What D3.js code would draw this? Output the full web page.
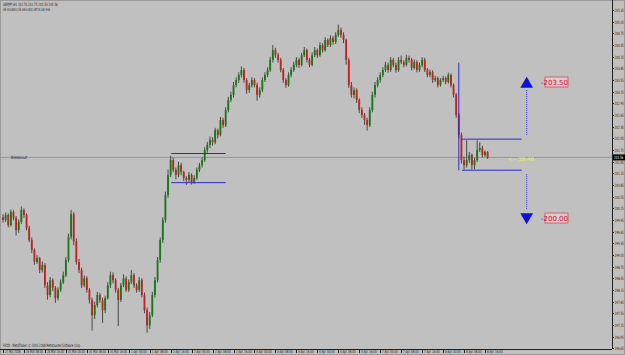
<!DOCTYPE html>
<html><head><meta charset="utf-8">
<script src="https://cdn.jsdelivr.net/npm/d3@7"></script>
<style>
body{margin:0;background:#c0c0c0;}
svg{display:block;font-family:"DejaVu Sans",sans-serif;}
</style>
</head><body><div id="chart"></div>
<script>
// GBPJPY H1 candles: [open, high, low, close]
var candles = [
  [200.02,200.10,199.88,199.95],[199.95,200.14,199.90,200.08],[200.08,200.12,199.76,199.82],[199.82,200.22,199.78,200.16],
  [200.16,200.20,199.94,200.00],[200.00,200.05,199.55,199.69],[199.69,199.96,199.62,199.90],[199.90,200.30,199.85,200.21],
  [200.21,200.25,200.00,200.08],[200.08,200.12,199.68,199.74],[199.74,199.80,199.38,199.43],[199.43,199.50,199.10,199.18],
  [199.18,199.22,198.80,198.87],[198.87,199.05,198.82,198.97],[198.97,199.00,198.58,198.66],[198.66,198.88,198.60,198.79],
  [198.79,198.84,198.20,198.27],[198.27,198.35,197.90,198.02],[198.02,198.48,197.96,198.40],[198.40,198.45,198.12,198.20],
  [198.20,198.25,197.82,197.94],[197.94,198.22,197.88,198.15],[198.15,198.42,198.10,198.35],[198.35,198.62,198.30,198.53],
  [198.53,199.00,198.48,198.92],[198.92,199.60,198.86,199.52],[199.52,200.21,199.45,200.10],[200.10,200.15,199.30,199.40],
  [199.40,199.48,198.80,198.87],[198.87,198.95,198.58,198.66],[198.66,198.72,198.20,198.27],[198.27,198.52,198.22,198.45],
  [198.45,198.50,198.08,198.15],[198.15,198.20,197.80,197.89],[197.89,197.95,197.10,197.50],[197.50,197.85,197.40,197.76],
  [197.76,198.10,197.70,198.02],[198.02,198.08,197.82,197.89],[197.89,197.95,197.30,197.63],[197.63,198.00,197.55,197.94],
  [197.94,198.35,197.90,198.27],[198.27,198.62,198.20,198.53],[198.53,198.60,198.32,198.40],[198.40,198.45,198.08,198.15],
  [198.15,198.20,197.22,197.89],[197.89,198.33,197.84,198.27],[198.27,198.55,198.22,198.45],[198.45,198.50,198.10,198.15],
  [198.15,198.42,198.10,198.35],[198.35,198.66,198.30,198.53],[198.53,198.58,198.20,198.27],[198.27,198.32,198.08,198.15],
  [198.15,198.48,198.10,198.40],[198.40,198.45,197.96,198.02],[198.02,198.08,197.55,197.63],[197.63,197.70,197.05,197.24],
  [197.24,197.58,197.15,197.50],[197.50,198.10,197.45,198.02],[198.02,198.48,197.95,198.40],[198.40,199.00,198.34,198.92],
  [198.92,199.50,198.85,199.43],[199.43,200.02,199.36,199.95],[199.95,200.68,199.88,200.59],[200.59,201.25,200.52,201.11],
  [201.11,201.60,201.05,201.49],[201.49,201.55,201.18,201.24],[201.24,201.30,201.00,201.11],[201.11,201.45,201.05,201.36],
  [201.36,201.42,201.10,201.18],[201.18,201.22,200.95,201.03],[201.03,201.08,200.85,200.98],[200.98,201.18,200.92,201.11],
  [201.11,201.15,200.86,200.93],[200.93,201.10,200.88,201.03],[201.03,201.30,200.98,201.24],[201.24,201.42,201.18,201.36],
  [201.36,201.56,201.30,201.49],[201.49,201.82,201.44,201.75],[201.75,201.96,201.68,201.88],[201.88,202.10,201.80,202.01],
  [202.01,202.08,201.86,201.95],[201.95,202.32,201.90,202.26],[202.26,202.30,202.05,202.14],[202.14,202.60,202.10,202.52],
  [202.52,202.58,202.32,202.39],[202.39,202.85,202.34,202.78],[202.78,203.12,202.72,203.04],[203.04,203.25,202.98,203.17],
  [203.17,203.50,203.10,203.42],[203.42,203.62,203.36,203.55],[203.55,203.75,203.48,203.68],[203.68,203.90,203.62,203.81],
  [203.81,203.86,203.48,203.55],[203.55,203.60,203.20,203.29],[203.29,203.48,203.22,203.42],[203.42,203.62,203.36,203.55],
  [203.55,203.60,203.36,203.42],[203.42,203.48,203.02,203.17],[203.17,203.36,203.10,203.29],[203.29,203.62,203.24,203.55],
  [203.55,203.75,203.50,203.68],[203.68,203.88,203.62,203.81],[203.81,204.15,203.76,204.07],[204.07,204.45,204.00,204.32],
  [204.32,204.38,204.12,204.19],[204.19,204.25,204.00,204.07],[204.07,204.12,203.75,203.81],[203.81,203.86,203.48,203.55],
  [203.55,203.60,203.35,203.42],[203.42,203.75,203.38,203.68],[203.68,203.88,203.62,203.81],[203.81,204.02,203.76,203.94],
  [203.94,204.14,203.88,204.07],[204.07,204.12,203.86,203.94],[203.94,204.25,203.90,204.19],[204.19,204.40,204.14,204.32],
  [204.32,204.36,204.00,204.07],[204.07,204.12,203.88,203.94],[203.94,204.26,203.90,204.19],[204.19,204.40,204.14,204.32],
  [204.32,204.36,204.12,204.19],[204.19,204.52,204.15,204.45],[204.45,204.50,204.26,204.32],[204.32,204.65,204.28,204.58],
  [204.58,204.62,204.40,204.45],[204.45,204.70,204.40,204.63],[204.63,204.68,204.46,204.53],[204.53,204.78,204.48,204.71],
  [204.71,204.98,204.66,204.84],[204.84,204.90,204.64,204.71],[204.71,204.78,204.50,204.58],[204.58,204.62,203.95,204.07],
  [204.07,204.12,203.35,203.42],[203.42,203.50,203.10,203.17],[203.17,203.36,203.08,203.29],[203.29,203.34,202.96,203.04],
  [203.04,203.08,202.70,202.78],[202.78,202.85,202.58,202.65],[202.65,202.70,202.40,202.52],[202.52,202.58,202.25,202.39],
  [202.39,202.85,202.34,202.78],[202.78,203.25,202.72,203.17],[203.17,203.50,203.10,203.42],[203.42,203.62,203.36,203.55],
  [203.55,203.75,203.48,203.68],[203.68,203.88,203.62,203.81],[203.81,204.02,203.76,203.94],[203.94,204.00,203.74,203.81],
  [203.81,204.14,203.76,204.07],[204.07,204.12,203.88,203.94],[203.94,204.00,203.74,203.81],[203.81,204.14,203.76,204.07],
  [204.07,204.18,203.96,204.01],[204.01,204.06,203.88,203.94],[203.94,204.20,203.90,204.12],[204.12,204.18,204.00,204.07],
  [204.07,204.12,203.80,203.86],[203.86,204.08,203.82,204.01],[204.01,204.06,203.75,203.81],[203.81,204.00,203.76,203.94],
  [203.94,204.14,203.88,204.07],[204.07,204.12,203.76,203.81],[203.81,203.86,203.62,203.68],[203.68,203.82,203.62,203.76],
  [203.76,203.80,203.48,203.55],[203.55,203.66,203.50,203.60],[203.60,203.64,203.36,203.42],[203.42,203.60,203.38,203.55],
  [203.55,203.66,203.50,203.60],[203.60,203.64,203.44,203.50],[203.50,203.74,203.46,203.68],[203.68,203.72,203.36,203.42],
  [203.42,203.46,203.10,203.17],[203.17,203.22,202.58,202.65],[202.65,202.70,202.05,202.14],[202.14,202.20,201.40,201.49],
  [201.49,201.58,201.25,201.36],[201.36,202.00,201.30,201.49],[201.49,201.70,201.42,201.62],[201.62,201.66,201.25,201.36],
  [201.36,201.55,201.26,201.49],[201.49,202.00,201.44,201.75],[201.75,201.95,201.70,201.80],[201.80,201.86,201.56,201.62],
  [201.62,201.74,201.58,201.70],[201.70,201.72,201.52,201.56]
];

var priceLabels = ["205.35","205.05","204.75","204.45","204.15","203.85","203.55","203.25",
  "202.95","202.65","202.35","202.05","201.75","201.45","201.15","200.85","200.55","200.25",
  "199.95","199.65","199.35","199.05","198.75","198.45","198.15","197.85","197.55","197.25",
  "196.95","196.65"];

var timeLabels = ["27 Mar 2008","28 Mar 08:00","28 Mar 16:00","31 Mar 00:00","31 Mar 08:00",
  "31 Mar 16:00","1 Apr 00:00","1 Apr 08:00","1 Apr 16:00","2 Apr 00:00","2 Apr 08:00",
  "2 Apr 16:00","3 Apr 00:00","3 Apr 08:00","3 Apr 16:00","4 Apr 00:00","4 Apr 08:00",
  "4 Apr 16:00","7 Apr 00:00","7 Apr 08:00","7 Apr 16:00","8 Apr 00:00","8 Apr 08:00",
  "8 Apr 16:00"];

var bid = 201.56;
var box1 = {from: 65, to: 85, top: 201.66, bottom: 200.91};
var box2 = {from: 176, to: 198, top: 202.03, bottom: 201.23};
var targetUp = 203.50, targetDown = 200.00;

var width = 625, height = 355;
var plotW = 612, plotH = 349;

var svg = d3.select("#chart").append("svg")
  .attr("width", width).attr("height", height);

var x = d3.scaleLinear().domain([0, 184]).range([3, 485]);
var y = d3.scaleLinear().domain([196.63, 205.61]).range([plotH, 0]);

// tiny squeezed text, like the downscaled terminal font
function label(sel, tx, ty, str, len, size, color){
  var t = sel.append("text").attr("font-size", size || 4.4).attr("fill", color || "#222").text(str);
  var w = t.node().getComputedTextLength();
  t.attr("transform", "translate(" + tx + "," + ty + ") scale(" + (len / w) + ",1)");
  return t;
}

// frame
svg.append("rect").attr("x", 0.5).attr("y", 0.5).attr("width", width - 1).attr("height", height - 1)
  .attr("fill", "#c0c0c0").attr("stroke", "#9a9a9a");
svg.append("line").attr("x1", plotW + 0.5).attr("x2", plotW + 0.5).attr("y1", 0).attr("y2", plotH)
  .attr("stroke", "#222");
svg.append("line").attr("x1", 0).attr("x2", plotW).attr("y1", plotH + 0.5).attr("y2", plotH + 0.5)
  .attr("stroke", "#222");

// price axis
var yAxis = svg.append("g");
priceLabels.forEach(function(p){
  var yy = Math.round(y(+p)) + 0.5;
  yAxis.append("line").attr("x1", plotW).attr("x2", plotW + 2).attr("y1", yy).attr("y2", yy).attr("stroke", "#222");
  label(yAxis, plotW + 2.5, yy + 1.5, p, 9.3);
});

// time axis
var xAxis = svg.append("g");
timeLabels.forEach(function(t, i){
  var xx = Math.round(x(i * 8)) + 0.5;
  xAxis.append("line").attr("x1", xx).attr("x2", xx).attr("y1", plotH).attr("y2", plotH + 4).attr("stroke", "#222");
  label(xAxis, xx + 1.5, plotH + 4.4, t, t.length * 1.42);
});

// bid line
svg.append("line").attr("x1", 0).attr("x2", plotW).attr("y1", y(bid)).attr("y2", y(bid))
  .attr("stroke", "#8c8c8c").attr("stroke-width", 0.8);
label(svg, 11, y(bid) + 1.2, "Breakout", 16, 4.4);

// candles
var g = svg.append("g");
g.selectAll(".wick").data(candles).enter().append("line")
  .attr("x1", function(d, i){ return x(i); }).attr("x2", function(d, i){ return x(i); })
  .attr("y1", function(d){ return y(d[1]); }).attr("y2", function(d){ return y(d[2]); })
  .attr("stroke", "#2a2a2a").attr("stroke-width", 0.8);
g.selectAll(".body").data(candles).enter().append("rect")
  .attr("x", function(d, i){ return x(i) - 0.9; }).attr("width", 1.8)
  .attr("y", function(d){ return y(Math.max(d[0], d[3])); })
  .attr("height", function(d){ return Math.max(0.8, Math.abs(y(d[0]) - y(d[3]))); })
  .attr("fill", function(d){ return d[3] >= d[0] ? "#127a12" : "#c42020"; });

// breakout boxes
var blue = "#2b2bc8";
[box1, box2].forEach(function(b){
  [b.top, b.bottom].forEach(function(p){
    svg.append("line").attr("x1", x(b.from) - 2).attr("x2", x(b.to)).attr("y1", y(p)).attr("y2", y(p))
      .attr("stroke", blue).attr("stroke-width", 1);
  });
});
svg.append("line").attr("x1", x(174)).attr("x2", x(174)).attr("y1", y(204.00)).attr("y2", y(201.23))
  .attr("stroke", blue).attr("stroke-width", 1);

// targets
var ax = x(198) + 5;
svg.append("line").attr("x1", ax).attr("x2", ax).attr("y1", y(box2.top) - 4).attr("y2", y(targetUp) + 8)
  .attr("stroke", blue).attr("stroke-dasharray", "1,1");
svg.append("line").attr("x1", ax).attr("x2", ax).attr("y1", y(box2.bottom) + 4).attr("y2", y(targetDown) - 8)
  .attr("stroke", blue).attr("stroke-dasharray", "1,1");
svg.append("path").attr("d", d3.symbol().type(d3.symbolTriangle).size(70)())
  .attr("transform", "translate(" + ax + "," + (y(targetUp) + 2) + ")").attr("fill", "#1010d8");
svg.append("path").attr("d", d3.symbol().type(d3.symbolTriangle).size(70)())
  .attr("transform", "translate(" + ax + "," + (y(targetDown) - 1) + ") rotate(180)").attr("fill", "#1010d8");

[targetUp, targetDown].forEach(function(p){
  var t = p.toFixed(2);
  svg.append("rect").attr("x", 545).attr("y", y(p) - 5).attr("width", 23).attr("height", 10)
    .attr("fill", "#e4c9cc").attr("stroke", "#c85060").attr("stroke-width", 0.8);
  svg.append("text").attr("x", 541).attr("y", y(p) + 2.5).attr("font-size", 7).attr("fill", "#c8102e").text("-" + t);
});

label(svg, 508, y(bid) + 4, "<-- 38:46", 26, 5.5, "#f0f040");

// bid label
svg.append("rect").attr("x", plotW + 1).attr("y", y(bid) - 3).attr("width", 12).attr("height", 6).attr("fill", "#000");
label(svg, plotW + 2, y(bid) + 1.5, bid.toFixed(2), 9.3, 4.4, "#fff");

// header
label(svg, 3, 6, "GBPJPY,H1  201.70 201.75 201.53 201.56", 55);
label(svg, 3, 11, "38 minute(s) 46 second(s) left to bar end", 47);
label(svg, 3, plotH - 2.5, "FXDD - MetaTrader, \u00a9 2001-2008 MetaQuotes Software Corp.", 78);
</script>
</body></html>
